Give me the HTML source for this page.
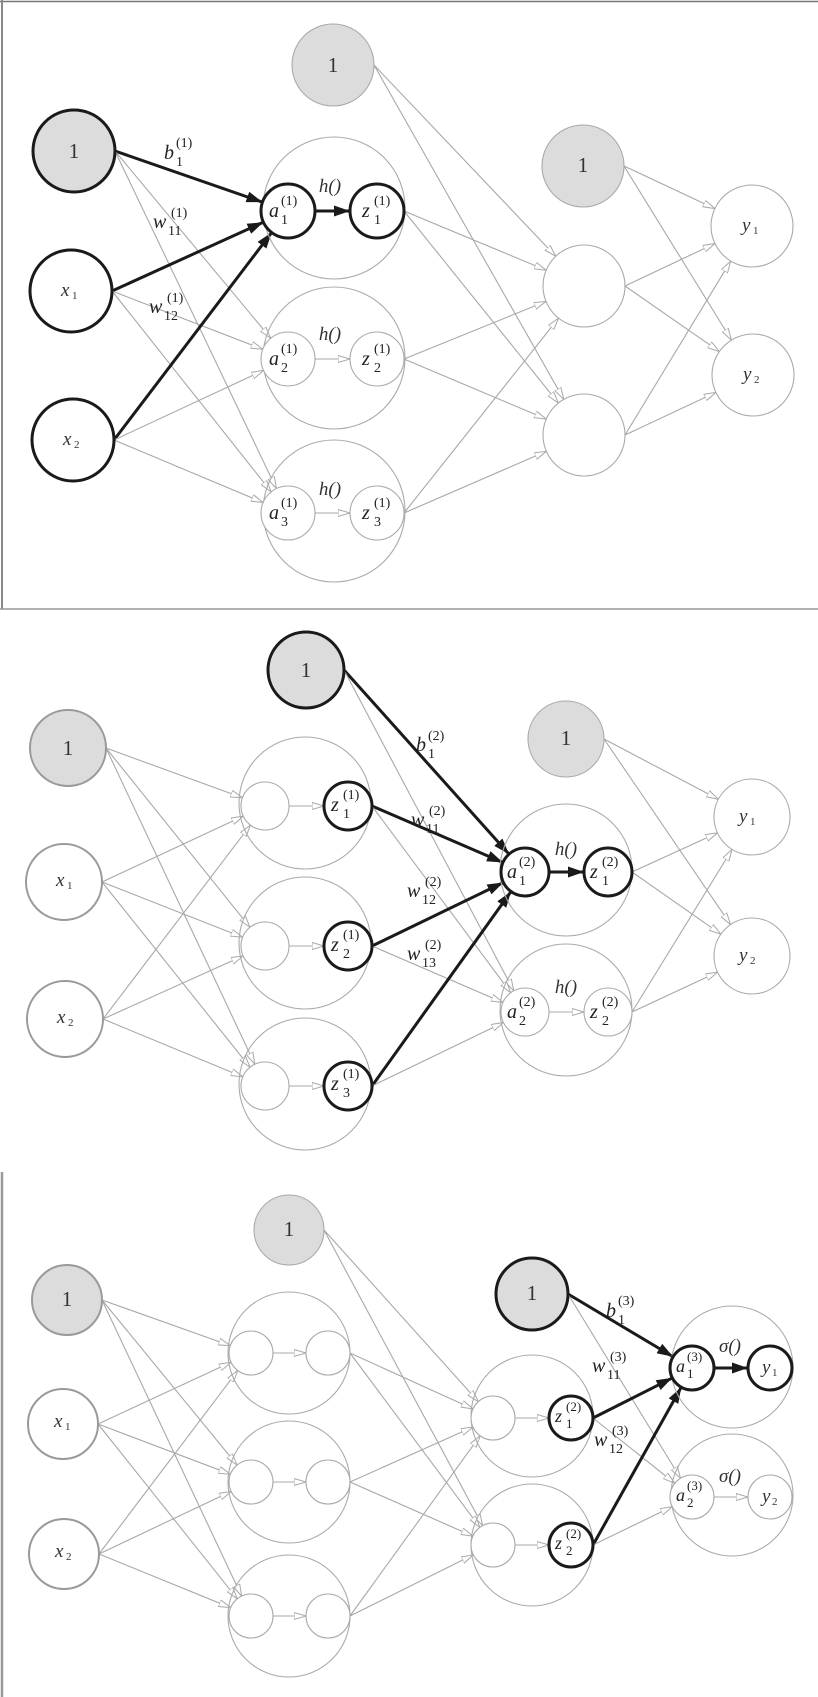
<!DOCTYPE html>
<html><head><meta charset="utf-8">
<style>
html,body{margin:0;padding:0;background:#fff;}
svg{display:block;}
.m{font-family:"Liberation Serif",serif;font-style:italic;font-size:20px;fill:#222;}
.s{font-family:"Liberation Serif",serif;font-size:14px;fill:#222;}
.m3{font-family:"Liberation Serif",serif;font-style:italic;font-size:18px;fill:#222;}
.s3{font-family:"Liberation Serif",serif;font-size:13px;fill:#222;}
.one{font-family:"Liberation Serif",serif;font-size:21px;fill:#333;text-anchor:middle;}
.xi{font-family:"Liberation Serif",serif;font-style:italic;font-size:19px;fill:#333;}
.xs{font-family:"Liberation Serif",serif;font-size:11px;fill:#333;}
.h{font-family:"Liberation Serif",serif;font-style:italic;font-size:19px;fill:#333;text-anchor:middle;}
</style></head>
<body>
<svg id="g" width="818" height="1697" viewBox="0 0 818 1697" xmlns="http://www.w3.org/2000/svg">
<defs>
<marker id="ga" markerUnits="userSpaceOnUse" markerWidth="14" markerHeight="10" refX="12" refY="4" orient="auto">
<path d="M0,0.5 L12,4 L0,7.5 z" fill="#fff" stroke="#a8a8a8" stroke-width="1"/></marker>
<marker id="ba" markerUnits="userSpaceOnUse" markerWidth="18" markerHeight="12" refX="16" refY="5.5" orient="auto">
<path d="M0,0 L16,5.5 L0,11 z" fill="#1a1a1a"/></marker>
</defs>
<!-- borders -->
<line x1="0" y1="1.5" x2="818" y2="1.5" stroke="#777" stroke-width="1.5"/>
<line x1="2" y1="0" x2="2" y2="609" stroke="#888" stroke-width="2"/>
<line x1="0" y1="609" x2="818" y2="609" stroke="#999" stroke-width="1.5"/>
<line x1="2" y1="1172" x2="2" y2="1697" stroke="#999" stroke-width="2.5"/>
<g id="edges"></g>
<g id="nodes"></g>
<g id="labels">
<!-- Panel 1 -->
<text class="one" x="74" y="158">1</text>
<text class="one" x="333" y="72">1</text>
<text class="one" x="583" y="172">1</text>
<text class="xi" x="61" y="296">x</text><text class="xs" x="72" y="299">1</text>
<text class="xi" x="63" y="445">x</text><text class="xs" x="74" y="448">2</text>
<text class="xi" x="742" y="231">y</text><text class="xs" x="753" y="234">1</text>
<text class="xi" x="743" y="380">y</text><text class="xs" x="754" y="383">2</text>
<text class="h" x="330" y="192">h()</text>
<text class="h" x="330" y="340">h()</text>
<text class="h" x="330" y="495">h()</text>
<text class="m" x="269" y="217">a</text><text class="s" x="281" y="205">(1)</text><text class="s" x="281" y="224">1</text>
<text class="m" x="362" y="217">z</text><text class="s" x="374" y="205">(1)</text><text class="s" x="374" y="224">1</text>
<text class="m" x="269" y="365">a</text><text class="s" x="281" y="353">(1)</text><text class="s" x="281" y="372">2</text>
<text class="m" x="362" y="365">z</text><text class="s" x="374" y="353">(1)</text><text class="s" x="374" y="372">2</text>
<text class="m" x="269" y="519">a</text><text class="s" x="281" y="507">(1)</text><text class="s" x="281" y="526">3</text>
<text class="m" x="362" y="519">z</text><text class="s" x="374" y="507">(1)</text><text class="s" x="374" y="526">3</text>
<text class="m" x="164" y="159">b</text><text class="s" x="176" y="147">(1)</text><text class="s" x="176" y="166">1</text>
<text class="m" x="153" y="228">w</text><text class="s" x="171" y="217">(1)</text><text class="s" x="168" y="235">11</text>
<text class="m" x="149" y="313">w</text><text class="s" x="167" y="302">(1)</text><text class="s" x="164" y="320">12</text>
<!-- Panel 2 -->
<text class="one" x="68" y="755">1</text>
<text class="one" x="306" y="677">1</text>
<text class="one" x="566" y="745">1</text>
<text class="xi" x="56" y="886">x</text><text class="xs" x="67" y="889">1</text>
<text class="xi" x="57" y="1023">x</text><text class="xs" x="68" y="1026">2</text>
<text class="xi" x="739" y="822">y</text><text class="xs" x="750" y="825">1</text>
<text class="xi" x="739" y="961">y</text><text class="xs" x="750" y="964">2</text>
<text class="h" x="566" y="855">h()</text>
<text class="h" x="566" y="993">h()</text>
<text class="m" x="331" y="811">z</text><text class="s" x="343" y="799">(1)</text><text class="s" x="343" y="818">1</text>
<text class="m" x="331" y="951">z</text><text class="s" x="343" y="939">(1)</text><text class="s" x="343" y="958">2</text>
<text class="m" x="331" y="1090">z</text><text class="s" x="343" y="1078">(1)</text><text class="s" x="343" y="1097">3</text>
<text class="m" x="507" y="878">a</text><text class="s" x="519" y="866">(2)</text><text class="s" x="519" y="885">1</text>
<text class="m" x="590" y="878">z</text><text class="s" x="602" y="866">(2)</text><text class="s" x="602" y="885">1</text>
<text class="m" x="507" y="1018">a</text><text class="s" x="519" y="1006">(2)</text><text class="s" x="519" y="1025">2</text>
<text class="m" x="590" y="1018">z</text><text class="s" x="602" y="1006">(2)</text><text class="s" x="602" y="1025">2</text>
<text class="m" x="416" y="751">b</text><text class="s" x="428" y="740">(2)</text><text class="s" x="428" y="758">1</text>
<text class="m" x="411" y="826">w</text><text class="s" x="429" y="815">(2)</text><text class="s" x="426" y="833">11</text>
<text class="m" x="407" y="897">w</text><text class="s" x="425" y="886">(2)</text><text class="s" x="422" y="904">12</text>
<text class="m" x="407" y="960">w</text><text class="s" x="425" y="949">(2)</text><text class="s" x="422" y="967">13</text>
<!-- Panel 3 -->
<text class="one" x="289" y="1236">1</text>
<text class="one" x="67" y="1306">1</text>
<text class="one" x="532" y="1300">1</text>
<text class="xi" x="54" y="1427">x</text><text class="xs" x="65" y="1430">1</text>
<text class="xi" x="55" y="1557">x</text><text class="xs" x="66" y="1560">2</text>
<text class="xi" x="762" y="1373">y</text><text class="xs" x="772" y="1376">1</text>
<text class="xi" x="762" y="1502">y</text><text class="xs" x="772" y="1505">2</text>
<text class="h" x="730" y="1352">σ()</text>
<text class="h" x="730" y="1482">σ()</text>
<text class="m3" x="555" y="1422">z</text><text class="s3" x="566" y="1411">(2)</text><text class="s3" x="566" y="1428">1</text>
<text class="m3" x="555" y="1549">z</text><text class="s3" x="566" y="1538">(2)</text><text class="s3" x="566" y="1555">2</text>
<text class="m3" x="676" y="1372">a</text><text class="s3" x="687" y="1361">(3)</text><text class="s3" x="687" y="1378">1</text>
<text class="m3" x="676" y="1501">a</text><text class="s3" x="687" y="1490">(3)</text><text class="s3" x="687" y="1507">2</text>
<text class="m" x="606" y="1317">b</text><text class="s" x="618" y="1305">(3)</text><text class="s" x="618" y="1324">1</text>
<text class="m" x="592" y="1372">w</text><text class="s" x="610" y="1361">(3)</text><text class="s" x="607" y="1379">11</text>
<text class="m" x="594" y="1446">w</text><text class="s" x="612" y="1435">(3)</text><text class="s" x="609" y="1453">12</text>
</g>
</svg>
<script>
(function(){
var NS="http://www.w3.org/2000/svg";
var eg=document.getElementById('edges'), ng=document.getElementById('nodes');
function el(n,a,p){var e=document.createElementNS(NS,n);for(var k in a)e.setAttribute(k,a[k]);p.appendChild(e);return e;}
// node: [cx,cy,r,style] style: 'b' bold white,'bf' bold fill,'g' gray white,'gf' gray fill,'gt' thick gray,'gtf' thick gray fill,'big'
var N={};
function node(id,cx,cy,r,st){N[id]={x:cx,y:cy,r:r,s:st};}
function draw(id){var n=N[id];var a={cx:n.x,cy:n.y,r:n.r,fill:'#fff',stroke:'#aaa','stroke-width':1.1};
 if(n.s=='big'){a.fill='none';}
 if(n.s=='b'||n.s=='bf'){a.stroke='#1a1a1a';a['stroke-width']=3;}
 if(n.s=='gt'||n.s=='gtf'){a.stroke='#9a9a9a';a['stroke-width']=2;}
 if(n.s=='bf'||n.s=='gf'||n.s=='gtf')a.fill='#dcdcdd';
 el('circle',a,ng);}
function edge(s,t,bold){var a=N[s],b=N[t];var sx=a.x+a.r,sy=a.y;var dx=b.x-sx,dy=b.y-sy,L=Math.sqrt(dx*dx+dy*dy);
 var ex=b.x-dx/L*b.r,ey=b.y-dy/L*b.r;
 el('line',{x1:sx,y1:sy,x2:ex,y2:ey,stroke:bold?'#1a1a1a':'#a8a8a8','stroke-width':bold?3:1.1,'marker-end':bold?'url(#ba)':'url(#ga)'},eg);}
var order=[];
function add(id,cx,cy,r,st){node(id,cx,cy,r,st);order.push(id);}
// ---------- Panel 1
add('p1H1',334,208,71,'big');add('p1H2',334,358,71,'big');add('p1H3',334,511,71,'big');
add('p1B',74,151,41,'bf');add('p1X1',71,291,41,'b');add('p1X2',73,440,41,'b');
add('p1T',333,65,41,'gf');
add('p1a1',288,211,27,'b');add('p1z1',377,211,27,'b');
add('p1a2',288,359,27,'g');add('p1z2',377,359,27,'g');
add('p1a3',288,513,27,'g');add('p1z3',377,513,27,'g');
add('p1G',583,166,41,'gf');add('p1L1',584,286,41,'g');add('p1L2',584,435,41,'g');
add('p1Y1',752,226,41,'g');add('p1Y2',753,375,41,'g');
['p1B','p1X1','p1X2'].forEach(function(s){edge(s,'p1a1',true);edge(s,'p1a2');edge(s,'p1a3');});
edge('p1a1','p1z1',true);edge('p1a2','p1z2');edge('p1a3','p1z3');
['p1T','p1z1','p1z2','p1z3'].forEach(function(s){edge(s,'p1L1');edge(s,'p1L2');});
['p1G','p1L1','p1L2'].forEach(function(s){edge(s,'p1Y1');edge(s,'p1Y2');});
// ---------- Panel 2
add('p2H1',305,803,66,'big');add('p2H2',305,943,66,'big');add('p2H3',305,1084,66,'big');
add('p2B',68,748,38,'gtf');add('p2X1',64,882,38,'gt');add('p2X2',65,1019,38,'gt');
add('p2T',306,670,38,'bf');
add('p2a1',265,806,24,'g');add('p2z1',348,806,24,'b');
add('p2a2',265,946,24,'g');add('p2z2',348,946,24,'b');
add('p2a3',265,1086,24,'g');add('p2z3',348,1086,24,'b');
add('p2K1',566,870,66,'big');add('p2K2',566,1010,66,'big');
add('p2G',566,739,38,'gf');
add('p2A1',525,872,24,'b');add('p2Z1',608,872,24,'b');
add('p2A2',525,1012,24,'g');add('p2Z2',608,1012,24,'g');
add('p2Y1',752,817,38,'g');add('p2Y2',752,956,38,'g');
['p2B','p2X1','p2X2'].forEach(function(s){edge(s,'p2a1');edge(s,'p2a2');edge(s,'p2a3');});
edge('p2a1','p2z1');edge('p2a2','p2z2');edge('p2a3','p2z3');
['p2T','p2z1','p2z2','p2z3'].forEach(function(s){edge(s,'p2A1',true);edge(s,'p2A2');});
edge('p2A1','p2Z1',true);edge('p2A2','p2Z2');
['p2G','p2Z1','p2Z2'].forEach(function(s){edge(s,'p2Y1');edge(s,'p2Y2');});
// ---------- Panel 3
add('p3H1',289,1353,61,'big');add('p3H2',289,1482,61,'big');add('p3H3',289,1616,61,'big');
add('p3T',289,1230,35,'gf');add('p3B',67,1300,35,'gtf');add('p3X1',63,1424,35,'gt');add('p3X2',64,1554,35,'gt');
add('p3a1',251,1353,22,'g');add('p3z1',328,1353,22,'g');
add('p3a2',251,1482,22,'g');add('p3z2',328,1482,22,'g');
add('p3a3',251,1616,22,'g');add('p3z3',328,1616,22,'g');
add('p3K1',532,1416,61,'big');add('p3K2',532,1545,61,'big');
add('p3A1',493,1418,22,'g');add('p3Z1',571,1418,22,'b');
add('p3A2',493,1545,22,'g');add('p3Z2',571,1545,22,'b');
add('p3BG',532,1294,36,'bf');
add('p3O1',732,1367,61,'big');add('p3O2',732,1495,61,'big');
add('p3a31',692,1368,22,'b');add('p3y1',770,1368,22,'b');
add('p3a32',692,1497,22,'g');add('p3y2',770,1497,22,'g');
['p3B','p3X1','p3X2'].forEach(function(s){edge(s,'p3a1');edge(s,'p3a2');edge(s,'p3a3');});
edge('p3a1','p3z1');edge('p3a2','p3z2');edge('p3a3','p3z3');
['p3T','p3z1','p3z2','p3z3'].forEach(function(s){edge(s,'p3A1');edge(s,'p3A2');});
edge('p3A1','p3Z1');edge('p3A2','p3Z2');
['p3BG','p3Z1','p3Z2'].forEach(function(s){edge(s,'p3a31',true);edge(s,'p3a32');});
edge('p3a31','p3y1',true);edge('p3a32','p3y2');
order.forEach(draw);
})();
</script>
</body></html>
